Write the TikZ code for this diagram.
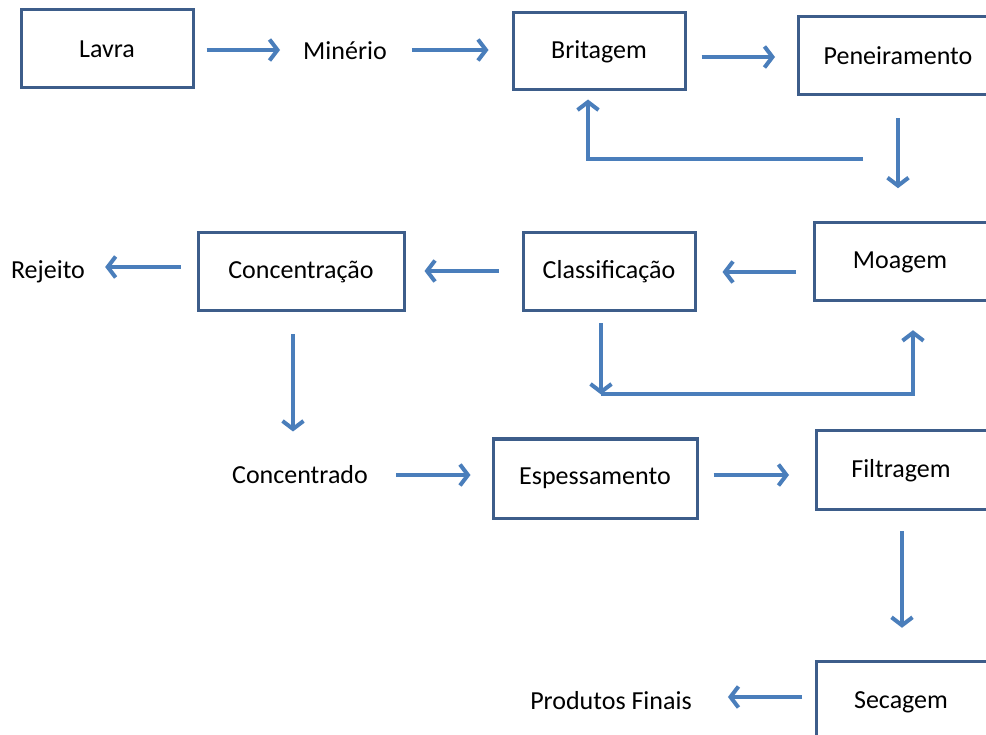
\documentclass[tikz,border=0pt]{standalone}
\usepackage{fontspec}
\setmainfont{Carlito}
\usetikzlibrary{arrows.meta,calc}
\definecolor{boxline}{RGB}{61,93,138}
\definecolor{flowblue}{RGB}{74,126,187}
\tikzset{
  txt/.style={font=\fontsize{26}{31}\selectfont},
  stage/.style={draw=boxline, line width=3pt, fill=white, inner sep=0pt,
    minimum width=172pt, minimum height=78pt, txt},
  % stage running off the right edge: only top, left and bottom sides
  openstage/.style={inner sep=0pt, minimum width=172pt, minimum height=78pt},
  stageline/.style={draw=boxline, line width=3pt, line join=miter},
  lbl/.style={inner sep=0pt, txt},
  flow/.style={draw=flowblue, line width=4pt,
    -{Straight Barb[length=8pt,width=21pt]}},
}
\begin{document}
\begin{tikzpicture}[x=1pt,y=-1pt]
\useasboundingbox (0,0) rectangle (986,735);
\fill[white] (0,0) rectangle (986,735);

% process stages
\node[stage] (lavra) at (107,49) {Lavra};
\node[stage, minimum height=77pt] (brit) at (599,51.5) {Britagem};
\node[openstage, minimum height=77pt, anchor=west] (pen) at (798,55.5) {};
\node[lbl] (pentxt) at (898,56) {Peneiramento};
\node[openstage, minimum height=77pt, anchor=west] (moag) at (814,261.5) {};
\node[lbl] (moagtxt) at (900,262) {Moagem};
\node[stage] (class) at (609,272) {Classificação};
\node[stage, minimum width=206pt] (conc) at (301,272) {Concentração};
\node[stage, minimum width=204pt, minimum height=79pt] (esp) at (595,478.5) {Espessamento};
\node[openstage, anchor=west] (filt) at (816,470) {};
\node[lbl] (filttxt) at (901,471) {Filtragem};
\node[openstage, anchor=west] (sec) at (816,701) {};
\node[lbl] (sectxt) at (901,702) {Secagem};

\foreach \s in {pen,moag,filt,sec}
  \draw[stageline] (\s.north west -| 986,0) -- (\s.north west)
    -- (\s.south west) -- (\s.south west -| 986,0);

% materials
\node[lbl] (minerio) at (345,51) {Minério};
\node[lbl] (rej) at (48,272) {Rejeito};
\node[lbl] (concd) at (300,475) {Concentrado};
\node[lbl] (prod) at (611,701) {Produtos Finais};

% main flow
\draw[flow] ($(lavra.east)+(12,1)$) -- ($(lavra.east -| minerio.west)+(-23,1)$);
\draw[flow] ($(minerio.east)+(25,-1)$) -- ($(minerio.east -| brit.west)+(-23,-1)$);
\draw[flow] ($(pen.west -| brit.east)+(15,1.5)$) -- ($(pen.west)+(-23,1.5)$);
\draw[flow] ($(pentxt |- pen.south)+(0,24)$) -- ($(pentxt |- pen.south)+(0,94)$);

% screen oversize back to crushing
\coordinate (fb) at ($(pentxt |- pen.south)+(-35,65)$);
\draw[flow] (fb) -| ($(brit.south)+(-11,8)$);

\draw[flow] ($(moag.west |- class.east)+(-18,0)$) -- ($(class.east)+(26,0)$);

% classifier underflow back to grinding
\coordinate (cl) at ($(class.south)+(-8,82)$);
\draw[flow] ($(class.south)+(-8,11)$) -- (cl);
\draw[flow] (cl) -| ($(moagtxt |- moag.south)+(13,30)$);

\draw[flow] ($(class.west)+(-23,-1)$) -- ($(class.west -| conc.east)+(19,-1)$);
\draw[flow] ($(conc.west)+(-16,-5)$) -- ($(conc.west -| rej.east)+(20,-5)$);
\draw[flow] ($(conc.south)+(-8,22)$) -- ($(conc.south)+(-8,119)$);

\draw[flow] ($(concd.east)+(28,0)$) -- ($(concd.east -| esp.west)+(-21,0)$);
\draw[flow] ($(filt.west -| esp.east)+(15,5)$) -- ($(filt.west)+(-27,5)$);
\draw[flow] ($(filttxt |- filt.south)+(1,22)$) -- ($(filttxt |- sec.north)+(1,-34)$);
\draw[flow] ($(sec.west)+(-14,-4)$) -- ($(sec.west -| prod.east)+(36,-4)$);
\end{tikzpicture}
\end{document}
